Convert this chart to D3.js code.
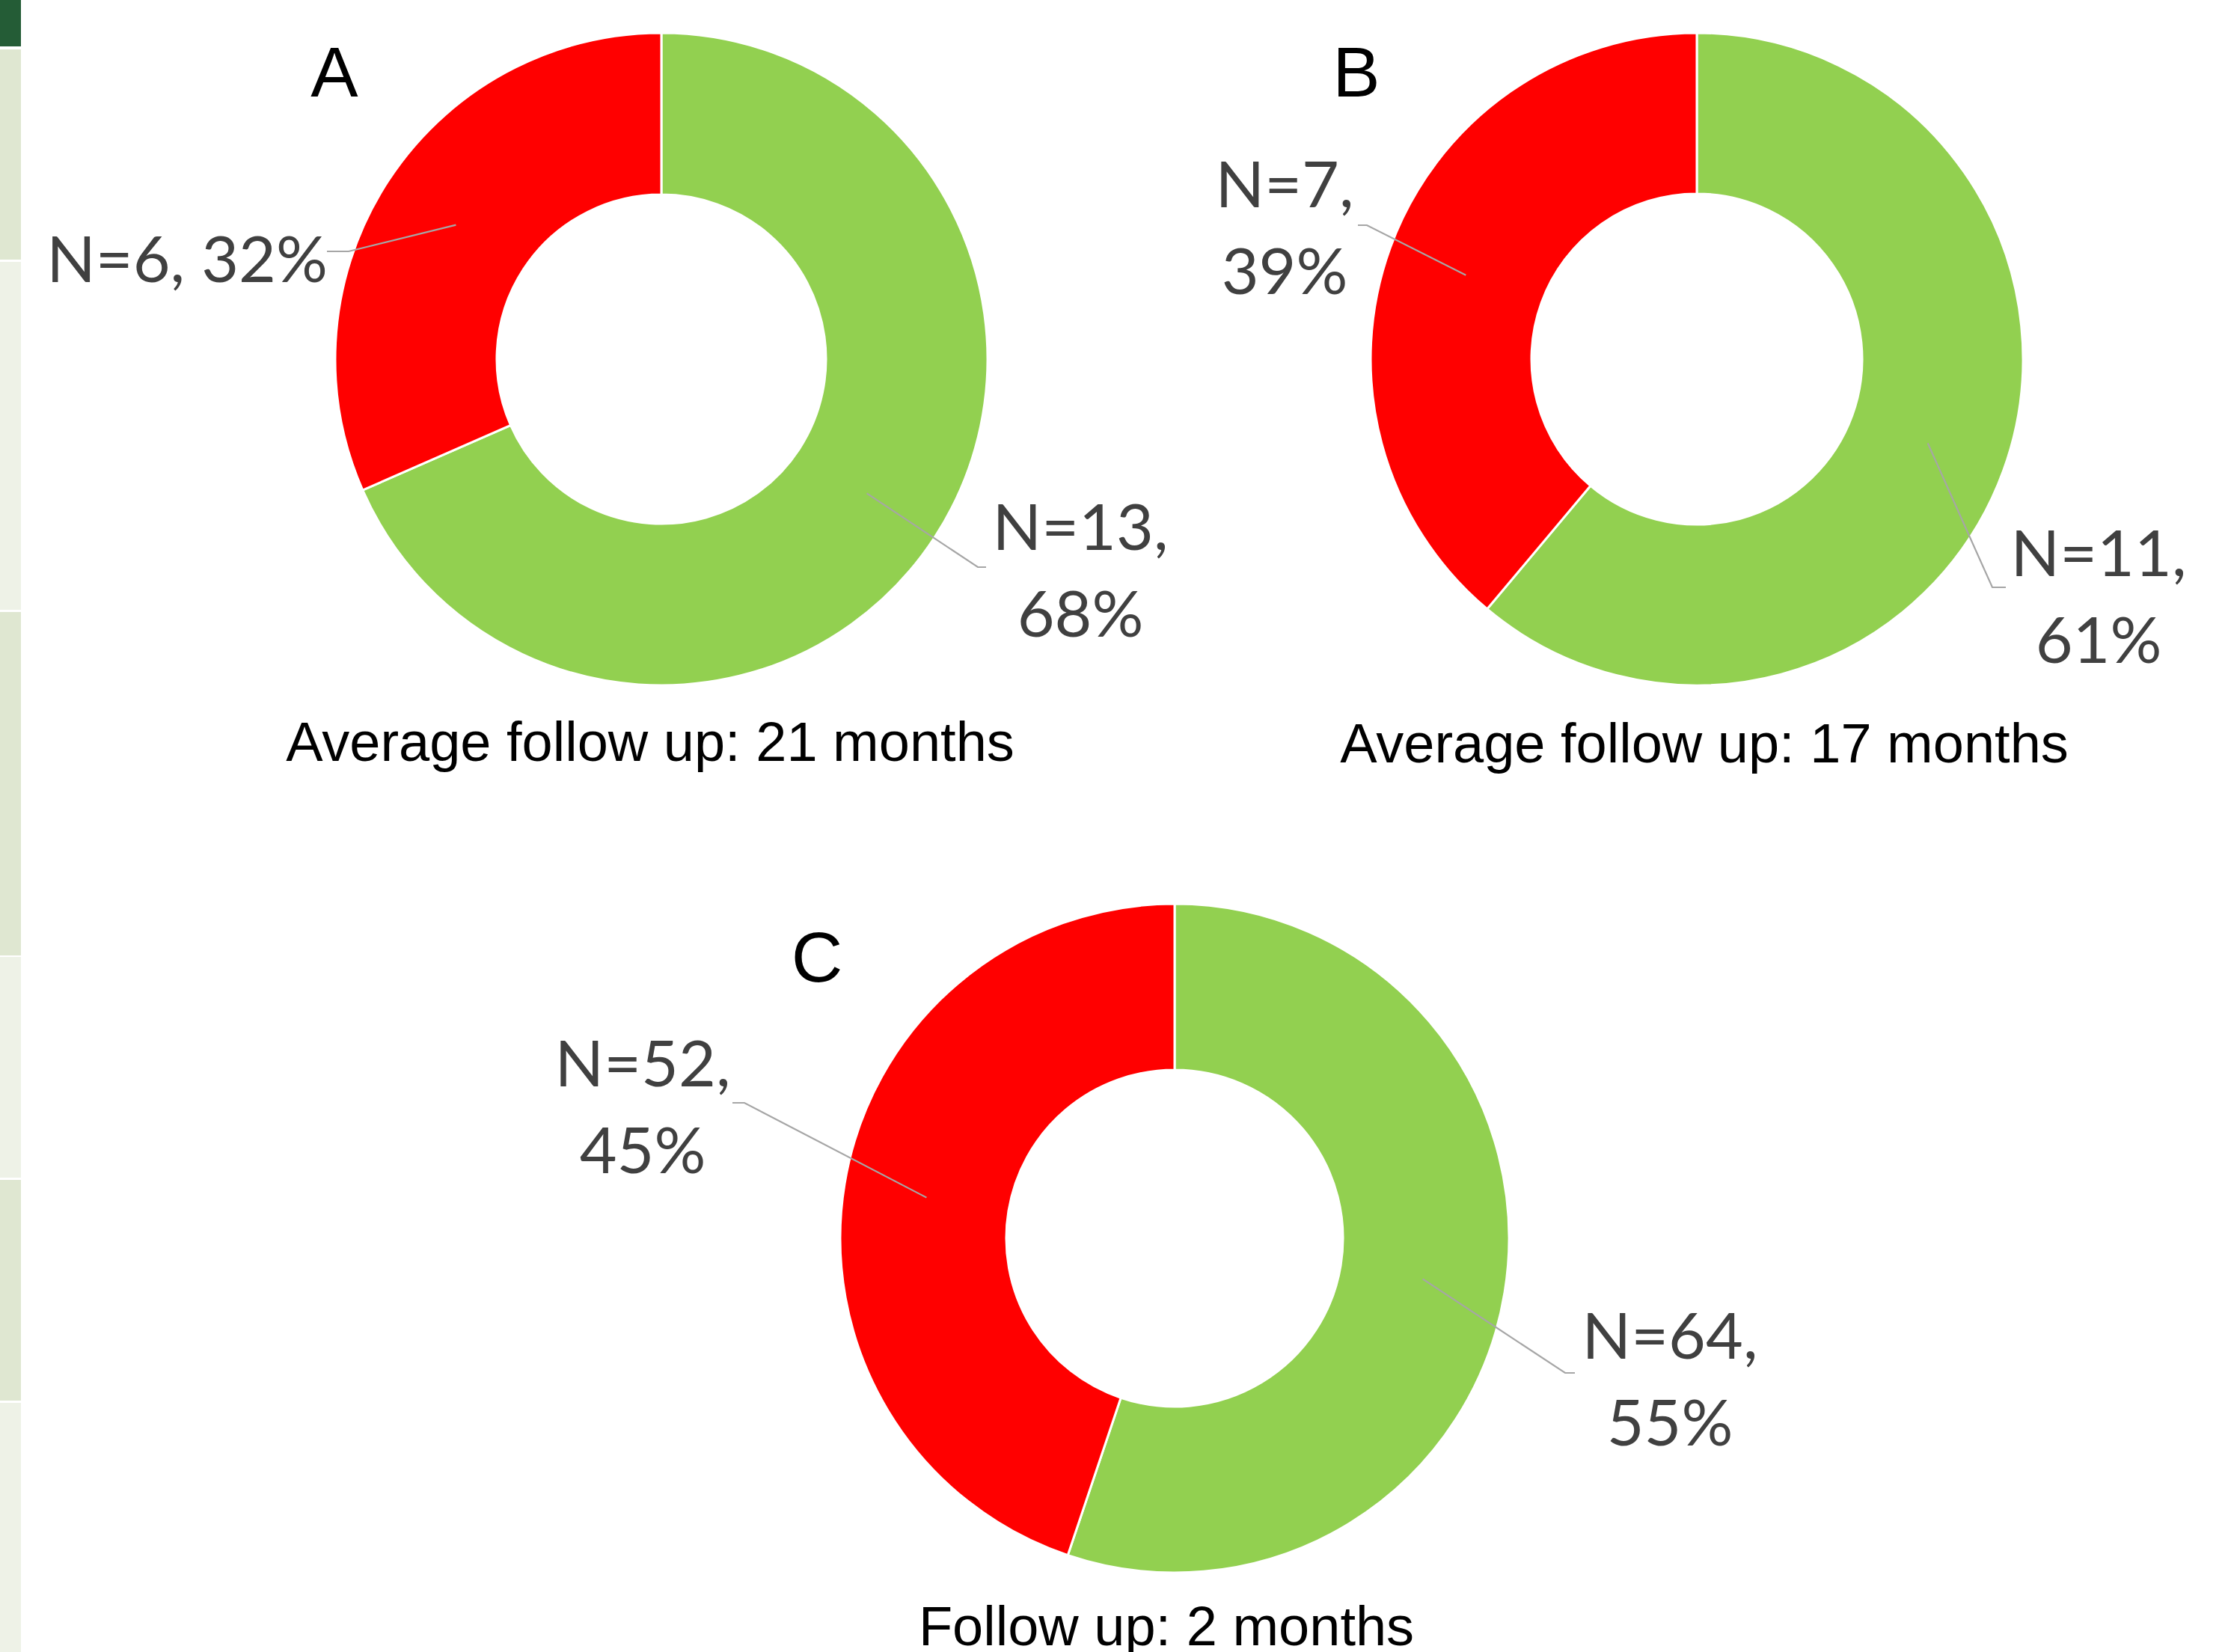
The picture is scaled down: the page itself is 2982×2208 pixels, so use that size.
<!DOCTYPE html>
<html>
<head>
<meta charset="utf-8">
<script src="https://cdn.jsdelivr.net/npm/d3@7"></script>
<style>
  html, body { margin: 0; padding: 0; background: #ffffff; }
  svg { display: block; }
</style>
</head>
<body>
<script>
// ---- data ----
const panels = ["A", "B", "C"];
const captions = ["Average follow up: 21 months", "Average follow up: 17 months", "Follow up: 2 months"];
const categories = ["improved", "not improved"];
const improvedN = [13, 11, 64];
const notImprovedN = [6, 7, 52];

// ---- layout ----
const W = 2982, H = 2208;
const colors = { "improved": "#92d050", "not improved": "#ff0000" };
const textColor = "#404040";
const leaderColor = "#a6a6a6";

// donut geometry per panel
const layout = [
  { cx: 884,  cy: 480,  r: 436, ir: 220, letter: [447, 129],  caption: [869, 1017] },
  { cx: 2268, cy: 480,  r: 436, ir: 221, letter: [1813, 129], caption: [2278, 1019] },
  { cx: 1570, cy: 1655, r: 447, ir: 225, letter: [1092, 1312], caption: [1559, 2199] }
];

// label placement: centre x, first baseline, line count, leader end point and
// horizontal stub length (measured from the end point back toward the donut)
const labelLayout = {
  A: {
    "improved":     { x: 1444, y: 735, lines: 2, end: [1318, 758], stub: -11 },
    "not improved": { x: 250,  y: 377, lines: 1, end: [437, 336],  stub: 29 }
  },
  B: {
    "improved":     { x: 2805, y: 770, lines: 2, end: [2681, 785], stub: -18 },
    "not improved": { x: 1717, y: 277, lines: 2, end: [1815, 301], stub: 12 }
  },
  C: {
    "improved":     { x: 2232, y: 1816, lines: 2, end: [2105, 1835], stub: -13 },
    "not improved": { x: 859,  y: 1452, lines: 2, end: [979, 1474],  stub: 16 }
  }
};

const svg = d3.select("body").append("svg")
  .attr("width", W).attr("height", H);

// side strip of alternating green bands
const strip = [
  { y0: 0,    y1: 62,   fill: "#245c36" },
  { y0: 66,   y1: 347,  fill: "#dfe7d1" },
  { y0: 350,  y1: 815,  fill: "#eef2e7" },
  { y0: 818,  y1: 1277, fill: "#dfe7d1" },
  { y0: 1279, y1: 1574, fill: "#eef2e7" },
  { y0: 1577, y1: 1872, fill: "#dfe7d1" },
  { y0: 1875, y1: 2208, fill: "#eef2e7" }
];
svg.append("g").selectAll("rect").data(strip).join("rect")
  .attr("x", 0).attr("width", 28)
  .attr("y", d => d.y0).attr("height", d => d.y1 - d.y0)
  .attr("fill", d => d.fill);

const pie = d3.pie().sort(null).value(d => d.n);

panels.forEach((p, i) => {
  const L = layout[i];
  const data = [
    { cat: categories[0], n: improvedN[i] },
    { cat: categories[1], n: notImprovedN[i] }
  ];
  const total = d3.sum(data, d => d.n);
  const arcs = pie(data);
  const arc = d3.arc().innerRadius(L.ir).outerRadius(L.r);
  const mid = d3.arc().innerRadius((L.r + L.ir) / 2).outerRadius((L.r + L.ir) / 2);

  const g = svg.append("g").attr("transform", `translate(${L.cx},${L.cy})`);
  g.selectAll("path").data(arcs).join("path")
    .attr("d", arc)
    .attr("fill", d => colors[d.data.cat])
    .attr("stroke", "#ffffff")
    .attr("stroke-width", 3);

  // leader lines and value labels
  arcs.forEach(a => {
    const ll = labelLayout[p][a.data.cat];
    const c = mid.centroid(a);
    const start = [L.cx + c[0], L.cy + c[1]];
    const elbow = [ll.end[0] + ll.stub, ll.end[1]];
    svg.append("polyline")
      .attr("points", [start, elbow, ll.end].map(q => q.join(",")).join(" "))
      .attr("fill", "none")
      .attr("stroke", leaderColor)
      .attr("stroke-width", 2.2);

    const pct = Math.round(a.data.n / total * 100) + "%";
    const nTxt = "N=" + a.data.n + ",";
    const lines = ll.lines === 1 ? [nTxt + " " + pct] : [nTxt, pct];
    const t = svg.append("text")
      .attr("x", ll.x).attr("y", ll.y)
      .attr("text-anchor", "middle")
      .attr("font-family", "Lato, 'Open Sans', sans-serif")
      .attr("font-size", 86)
      .attr("fill", textColor);
    lines.forEach((s, k) => {
      t.append("tspan").attr("x", ll.x).attr("y", ll.y + k * 116).text(s);
    });
  });

  // panel letter
  svg.append("text")
    .attr("x", L.letter[0]).attr("y", L.letter[1])
    .attr("text-anchor", "middle")
    .attr("font-family", "'Liberation Sans', Arial, sans-serif")
    .attr("font-size", 95)
    .attr("fill", "#000")
    .text(p);

  // caption
  svg.append("text")
    .attr("x", L.caption[0]).attr("y", L.caption[1])
    .attr("text-anchor", "middle")
    .attr("font-family", "'Liberation Sans', Arial, sans-serif")
    .attr("font-size", 74)
    .attr("fill", "#000")
    .text(captions[i]);
});
</script>
</body>
</html>
